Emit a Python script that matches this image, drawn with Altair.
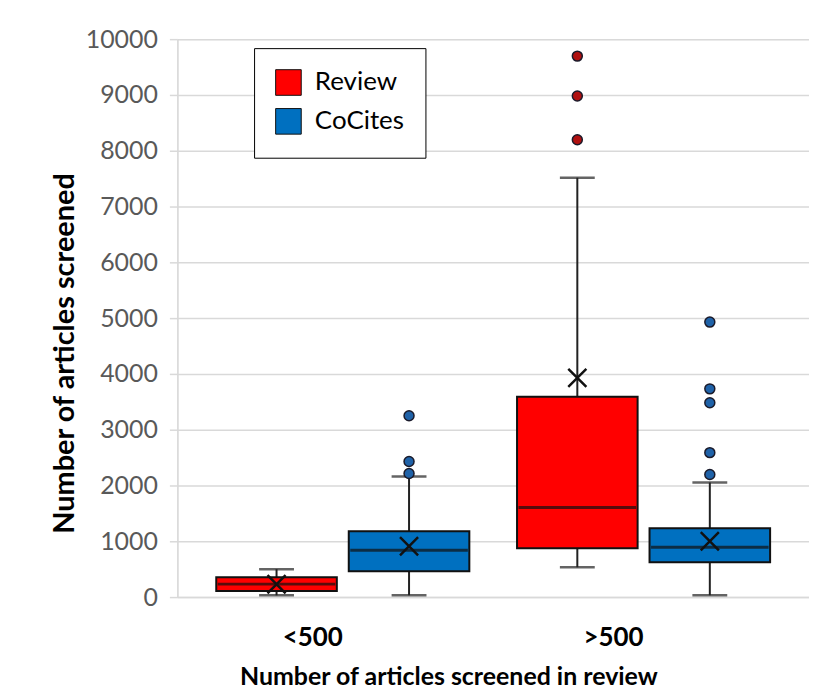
import altair as alt
import pandas as pd

# ---- data ----
groups = ["<500", "<500", ">500", ">500"]
series = ["Review", "CoCites", "Review", "CoCites"]
q1 = [107, 464, 875, 625]
median = [232, 839, 1607, 893]
q3 = [357, 1179, 3590, 1232]
lower = [32, 32, 536, 32]
upper = [500, 2160, 7518, 2054]
mean = [230, 911, 3929, 1000]

out_group = ["<500", "<500", "<500", ">500", ">500", ">500",
             ">500", ">500", ">500", ">500", ">500"]
out_series = ["CoCites", "CoCites", "CoCites", "Review", "Review", "Review",
              "CoCites", "CoCites", "CoCites", "CoCites", "CoCites"]
out_value = [3250, 2430, 2214, 9696, 8982, 8196,
             4929, 3732, 3482, 2589, 2196]

series_order = ["Review", "CoCites"]
group_order = ["<500", ">500"]

stats = pd.DataFrame({
    "group": groups, "series": series, "q1": q1, "median": median,
    "q3": q3, "lower": lower, "upper": upper, "mean": mean,
})
outs = pd.DataFrame({"group": out_group, "series": out_series, "value": out_value})

FONT = "Lato"
W, H = 634, 560

x_enc = alt.X(
    "group:N",
    sort=group_order,
    scale=alt.Scale(domain=group_order, paddingInner=0, paddingOuter=0.05),
    axis=alt.Axis(
        title="Number of articles screened in review",
        labelFontSize=26, labelFontWeight="bold", labelColor="black",
        labelFont=FONT, labelAngle=0, labelPadding=28, labelAlign="right",
        ticks=False, domainColor="#d9d9d9", domainWidth=1.5,
        titleFontSize=25, titleFontWeight="bold", titleColor="black",
        titleFont=FONT, titlePadding=14, titleX=272,
    ),
)
xoff_enc = alt.XOffset(
    "series:N", sort=series_order,
    scale=alt.Scale(domain=series_order, paddingInner=0.09, paddingOuter=0.18),
)

y_axis = alt.Axis(
    values=list(range(0, 10001, 1000)), format="d",
    title="Number of articles screened",
    labelFontSize=25, labelColor="#595959", labelFont=FONT, labelPadding=12,
    tickSize=8, tickColor="#d9d9d9", tickWidth=1.5,
    gridColor="#d9d9d9", gridWidth=1.5,
    domainColor="#d9d9d9", domainWidth=1.5,
    titleFontSize=29, titleFontWeight="bold", titleColor="black",
    titleFont=FONT, titlePadding=6, titleY=315,
)
y_scale = alt.Scale(domain=[0, 10000], nice=False)

base = alt.Chart(stats)

whisker = base.mark_rule(color="#222222", strokeWidth=2).encode(
    x=x_enc, xOffset=xoff_enc,
    y=alt.Y("lower:Q", scale=y_scale, axis=y_axis),
    y2="upper:Q",
)

box = base.mark_bar(stroke="#111111", strokeWidth=2).encode(
    x=x_enc, xOffset=xoff_enc,
    y=alt.Y("q1:Q", scale=y_scale, axis=y_axis),
    y2="q3:Q",
    color=alt.Color(
        "series:N",
        scale=alt.Scale(domain=series_order, range=["#ff0000", "#0070c0"]),
        legend=alt.Legend(
            title="\u2003\u2003", titleOrient="right", titleFontSize=33,
            titlePadding=0,
            orient="none", legendX=77, legendY=9,
            symbolType="square", symbolSize=660, symbolStrokeColor="#111111",
            symbolStrokeWidth=1, labelFontSize=26, labelFont=FONT,
            labelColor="black", rowPadding=8, labelOffset=13,
            padding=21, strokeColor="black",
            fillColor="white", symbolOpacity=1,
        ),
    ),
)

med = base.mark_tick(color="#111111", thickness=3, size=118).encode(
    x=x_enc, xOffset=xoff_enc,
    y=alt.Y("median:Q", scale=y_scale, axis=y_axis),
)

cap_lo = base.mark_tick(color="#222222", thickness=2.5, size=35).encode(
    x=x_enc, xOffset=xoff_enc,
    y=alt.Y("lower:Q", scale=y_scale, axis=y_axis),
)
cap_hi = base.mark_tick(color="#222222", thickness=2.5, size=35).encode(
    x=x_enc, xOffset=xoff_enc,
    y=alt.Y("upper:Q", scale=y_scale, axis=y_axis),
)

mean_pt = base.mark_point(
    shape="M-1,-1L1,1M-1,1L1,-1", size=330, color="#111111",
    filled=False, strokeWidth=2.5, opacity=1,
).encode(
    x=x_enc, xOffset=xoff_enc,
    y=alt.Y("mean:Q", scale=y_scale, axis=y_axis),
)

outl = alt.Chart(outs).mark_circle(
    size=100, stroke="#1a1a2a", strokeWidth=1.5, opacity=1,
).encode(
    x=x_enc, xOffset=xoff_enc,
    y=alt.Y("value:Q", scale=y_scale, axis=y_axis),
    color=alt.Color(
        "series:N",
        scale=alt.Scale(domain=series_order, range=["#b01010", "#1f62a8"]),
        legend=None,
    ),
)

chart = (
    alt.layer(whisker, box, med, cap_lo, cap_hi, mean_pt, outl)
    .resolve_scale(color="independent")
    .properties(
        width=W, height=H,
        padding={"left": 42, "top": 18, "right": 0, "bottom": 0},
    )
    .configure_view(stroke=None)
    .configure_legend(strokeWidth=2.5)
    .configure(background="white")
)

chart.save("out.html", embed_options={"renderer": "svg", "actions": False})
